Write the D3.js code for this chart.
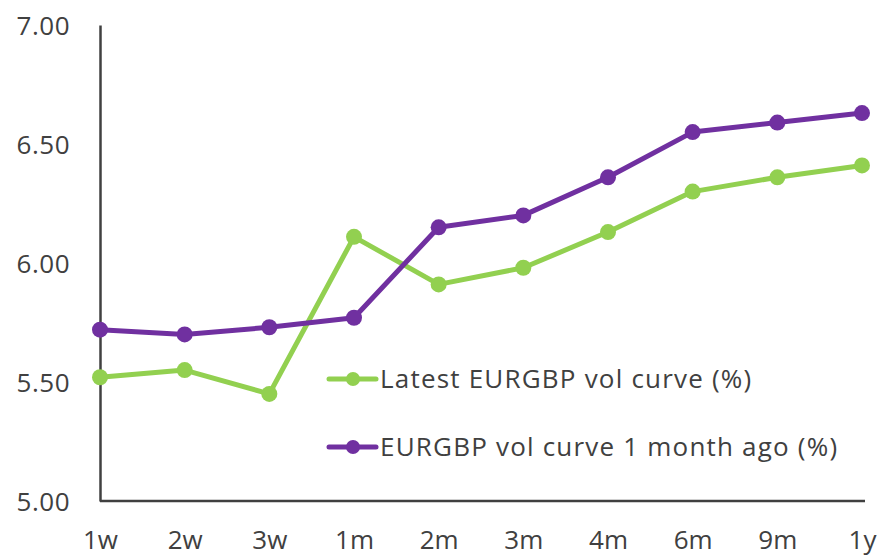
<!DOCTYPE html>
<html>
<head>
<meta charset="utf-8">
<script src="https://cdn.jsdelivr.net/npm/d3@7"></script>
<style>
  body { margin: 0; background: #fff; }
  text { font-family: "Open Sans", Lato, sans-serif; fill: #404040; }
</style>
</head>
<body>
<div id="chart"></div>
<script>
// tenors and the two vol curves
var tenors = ["1w", "2w", "3w", "1m", "2m", "3m", "4m", "6m", "9m", "1y"];
var latestVol = [5.52, 5.55, 5.45, 6.11, 5.91, 5.98, 6.13, 6.30, 6.36, 6.41];
var monthAgoVol = [5.72, 5.70, 5.73, 5.77, 6.15, 6.20, 6.36, 6.55, 6.59, 6.63];
var yTicks = [5.0, 5.5, 6.0, 6.5, 7.0];

var series = [
  { name: "Latest EURGBP vol curve (%)", values: latestVol, color: "#92D050" },
  { name: "EURGBP vol curve 1 month ago (%)", values: monthAgoVol, color: "#7030A0" }
];

var w = 883, h = 556;
var margin = { top: 25, right: 21, bottom: 55, left: 100 };

var svg = d3.select("#chart").append("svg")
  .attr("width", w)
  .attr("height", h);

var x = d3.scalePoint()
  .domain(tenors)
  .range([margin.left, w - margin.right]);

var y = d3.scaleLinear()
  .domain([5, 7])
  .range([h - margin.bottom, margin.top]);

// y axis
var yAxis = svg.append("g")
  .attr("transform", "translate(" + margin.left + ",0)")
  .call(d3.axisLeft(y).tickValues(yTicks).tickFormat(d3.format(".2f")).tickSize(0).tickPadding(30));
yAxis.select(".domain").attr("stroke", "#404040").attr("stroke-width", 2.5);
yAxis.selectAll("text").style("font-size", "26px").style("letter-spacing", "0.5px").attr("dy", "0.35em");

// x axis
var xAxis = svg.append("g")
  .attr("transform", "translate(0," + (h - margin.bottom) + ")")
  .call(d3.axisBottom(x).tickSize(0).tickPadding(28));
xAxis.select(".domain").attr("stroke", "#404040").attr("stroke-width", 2.5)
  .attr("d", "M" + margin.left + ",0H" + (w - margin.right + 3));
xAxis.selectAll("text").style("font-size", "26px").attr("dy", "0.75em");

var line = d3.line()
  .x(function(d, i) { return x(tenors[i]); })
  .y(function(d) { return y(d); });

series.forEach(function(s) {
  svg.append("path")
    .datum(s.values)
    .attr("fill", "none")
    .attr("stroke", s.color)
    .attr("stroke-width", 5)
    .attr("stroke-linejoin", "round")
    .attr("d", line);

  svg.selectAll(null)
    .data(s.values)
    .enter()
    .append("circle")
    .attr("cx", function(d, i) { return x(tenors[i]); })
    .attr("cy", function(d) { return y(d); })
    .attr("r", 8)
    .attr("fill", s.color);
});

// legend
var legend = svg.append("g").attr("transform", "translate(329,379)");
series.forEach(function(s, i) {
  var g = legend.append("g").attr("transform", "translate(0," + (i * 68) + ")");
  g.append("line")
    .attr("x1", 0).attr("x2", 47)
    .attr("stroke", s.color).attr("stroke-width", 5).attr("stroke-linecap", "round");
  g.append("circle").attr("cx", 24).attr("r", 7).attr("fill", s.color);
  g.append("text")
    .attr("x", 51)
    .attr("dy", "0.35em")
    .style("font-size", "26px")
    .style("letter-spacing", "1.2px")
    .text(s.name);
});
</script>
</body>
</html>
